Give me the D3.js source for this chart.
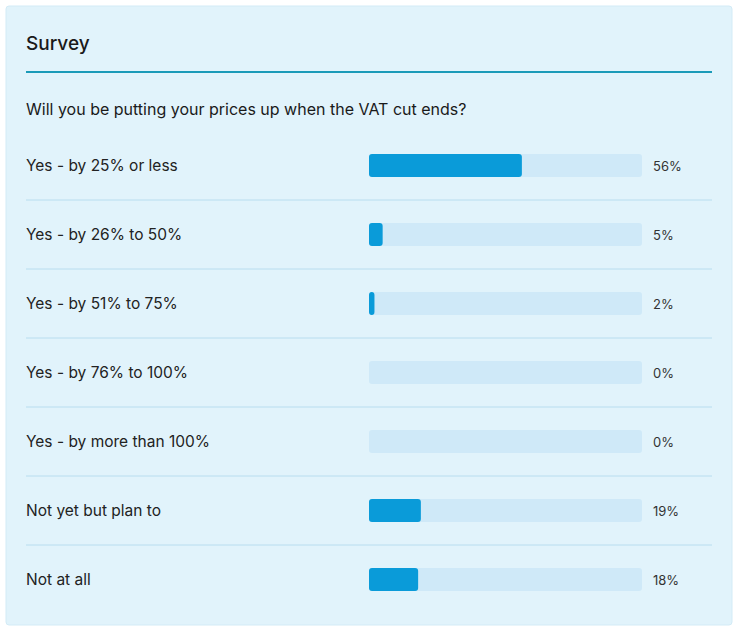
<!DOCTYPE html>
<html><head><meta charset="utf-8">
<script src="https://cdn.jsdelivr.net/npm/d3@7"></script>
<style>body{margin:0;background:#fff;font-family:Inter,"Open Sans",sans-serif;}</style>
</head><body>
<svg id="c" width="740" height="633"></svg>
<script>
const title = "Survey";
const question = "Will you be putting your prices up when the VAT cut ends?";
const categories = ["Yes - by 25% or less","Yes - by 26% to 50%","Yes - by 51% to 75%","Yes - by 76% to 100%","Yes - by more than 100%","Not yet but plan to","Not at all"];
const values = [56,5,2,0,0,19,18];

const svg = d3.select("#c");
svg.append("rect").attr("x",6).attr("y",6).attr("width",726).attr("height",619).attr("rx",3)
  .attr("fill","#e1f3fb").attr("stroke","#d3ebf6");
svg.append("text").attr("x",26).attr("y",50).attr("font-size",19).attr("font-weight",500).attr("fill","#1a1a1a").text(title);
svg.append("line").attr("x1",26).attr("x2",712).attr("y1",72).attr("y2",72).attr("stroke","#1a9ab8").attr("stroke-width",2);
svg.append("text").attr("x",26).attr("y",115).attr("font-size",16).attr("fill","#1a1a1a").text(question);

const y = d3.scaleBand().domain(categories).range([131,614]);
const x = d3.scaleLinear().domain([0,100]).range([369,642]);
const g = svg.selectAll("g.row").data(categories).enter().append("g");
g.each(function(c,i){
  const s = d3.select(this), cy = y(c)+y.bandwidth()/2;
  s.append("text").attr("x",26).attr("y",cy+5.5).attr("font-size",15.5).attr("fill","#222").text(c);
  s.append("rect").attr("x",x(0)).attr("y",cy-11.5).attr("width",x(100)-x(0)).attr("height",23).attr("rx",3).attr("fill","#cfe9f8");
  if(values[i]>0) s.append("rect").attr("x",x(0)).attr("y",cy-11.5).attr("width",Math.max(4,x(values[i])-x(0))).attr("height",23).attr("rx",3).attr("fill","#0a9bd9");
  s.append("text").attr("x",653).attr("y",cy+5).attr("font-size",13).attr("fill","#333").text(values[i]+"%");
  if(i<categories.length-1) s.append("line").attr("x1",26).attr("x2",712).attr("y1",y(c)+y.bandwidth()).attr("y2",y(c)+y.bandwidth()).attr("stroke","#b8ddef").attr("stroke-width",1);
});
</script></body></html>
